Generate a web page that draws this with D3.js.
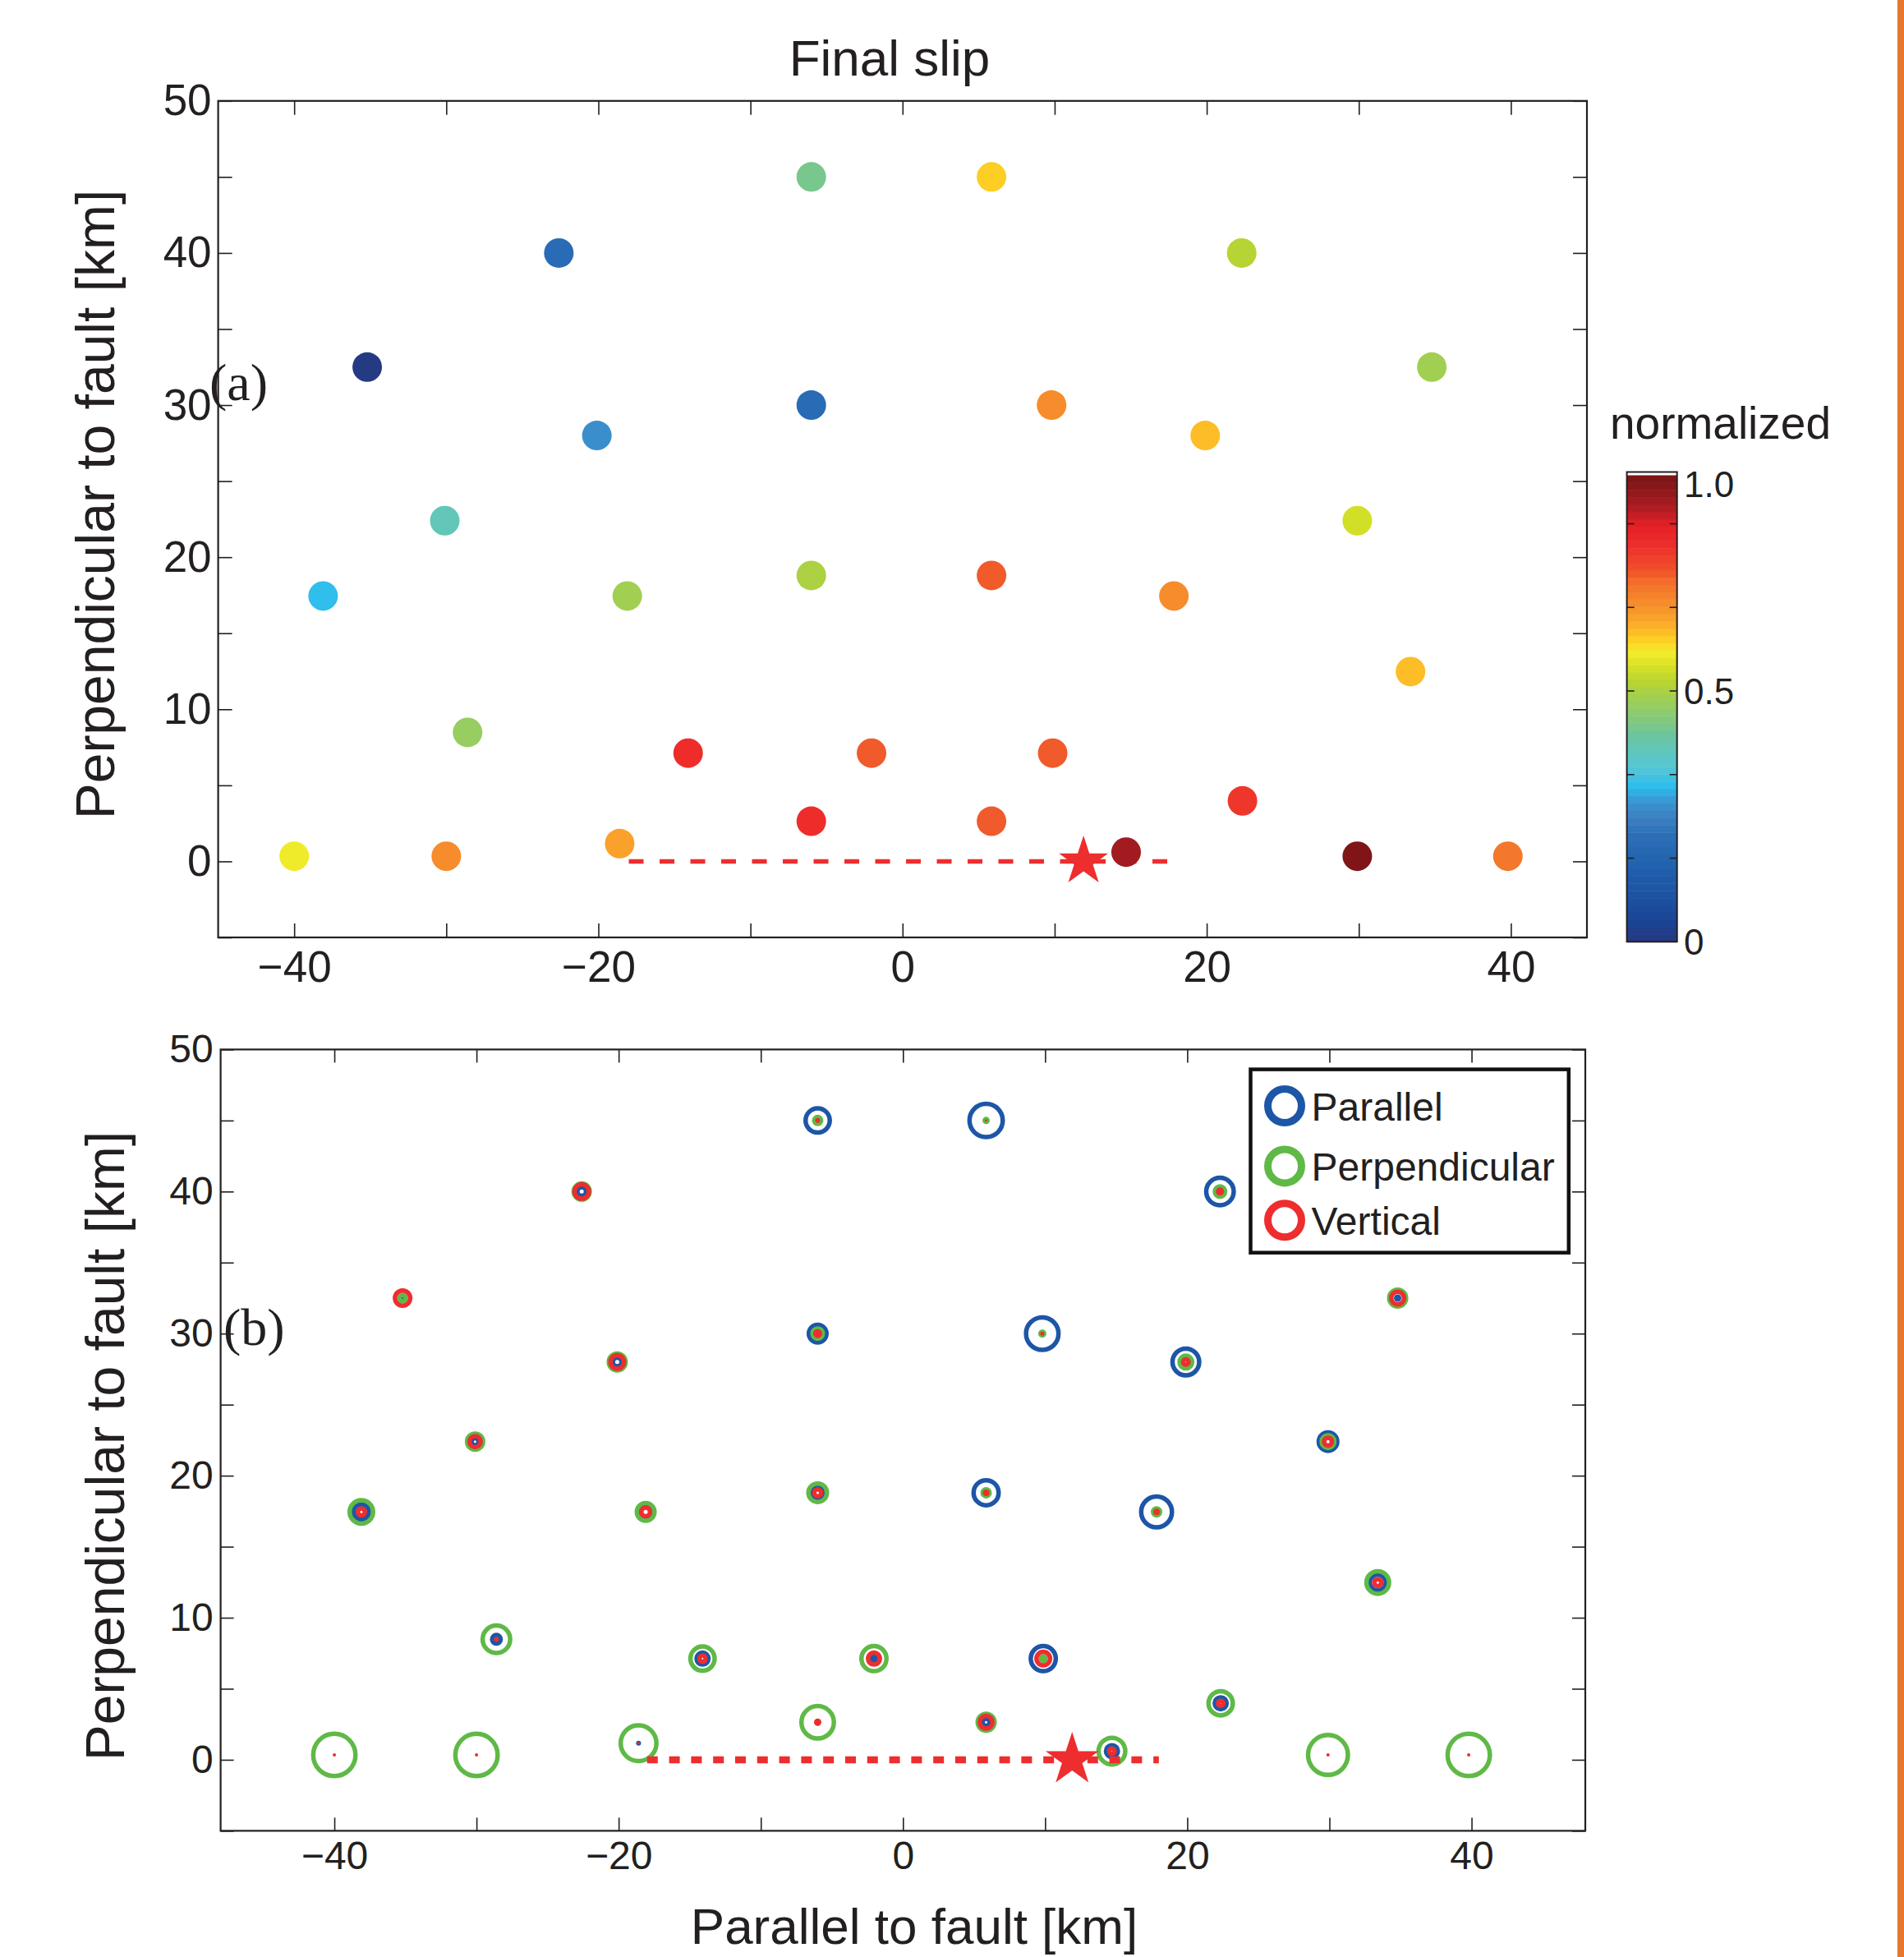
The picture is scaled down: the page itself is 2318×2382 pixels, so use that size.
<!DOCTYPE html>
<html>
<head>
<meta charset="utf-8">
<script src="https://cdn.jsdelivr.net/npm/d3@7"></script>
<style>
  body { margin: 0; background: #fff; }
  text { font-family: "Liberation Sans", Arial, sans-serif; fill: #231f20; }
</style>
</head>
<body>
<svg id="chart" width="2318" height="2382"></svg>
<script>
// station coordinates [km]
var stationX = [-6, 5.85, -22.6, 22.3, -35.2, 34.8, -6, 9.8, -20.1, 19.9, -30.1, 29.9, -38.1, -18.1, -6, 5.85,
    17.84, 33.4, -28.6, -14.1, -2.04, 9.87, -6, 5.85, 22.35, -40, -30, -18.6, 14.7, 29.9, 39.8];
var stationY = [45, 45, 40, 40, 32.5, 32.5, 30, 30, 28, 28, 22.4, 22.4, 17.45, 17.45, 18.8, 18.8,
    17.45, 12.48, 8.48, 7.12, 7.12, 7.12, 2.64, 2.64, 3.98, 0.34, 0.34, 1.17, 0.61, 0.34, 0.34];
// normalized final slip at each station
var slip = [0.43, 0.60, 0.19, 0.51, 0.01, 0.48, 0.19, 0.68, 0.27, 0.62, 0.39, 0.55, 0.31, 0.48, 0.50, 0.73,
    0.68, 0.62, 0.465, 0.79, 0.73, 0.73, 0.79, 0.74, 0.78, 0.57, 0.68, 0.65, 0.88, 0.92, 0.70];
// displacement amplitude per component
var dispParallel = [3.5, 4.6, 1.6, 3.9, 0.6, 0.9, 2.7, 4.5, 1.6, 3.8, 1.4, 2.8, 2.4, 2.0, 2.2, 3.6,
    4.3, 2.5, 1.6, 2.0, 1.0, 3.6, 0.3, 1.4, 2.0, 0.2, 0.2, 0.6, 2.0, 0.2, 0.2];
var dispPerpendicular = [1.4, 0.9, 2.5, 1.8, 1.3, 2.6, 1.8, 1.0, 2.6, 2.1, 2.5, 2.1, 3.4, 2.7, 2.8, 1.4,
    1.4, 3.3, 3.9, 3.5, 3.6, 1.1, 4.5, 2.6, 3.5, 5.7, 5.7, 4.9, 3.8, 5.4, 5.7];
var dispVertical = [0.6, 0.3, 2.3, 1.0, 2.4, 2.1, 1.1, 0.5, 2.2, 1.2, 1.9, 1.5, 1.4, 1.6, 1.4, 0.8,
    0.8, 1.4, 0.6, 1.3, 2.0, 2.2, 0.9, 2.1, 1.2, 0.4, 0.4, 0.3, 1.2, 0.4, 0.4];

var faultX = [-18, 18];
var hypocenter = [11.9, 0];

var xTicks = [-40, -30, -20, -10, 0, 10, 20, 30, 40];
var xTickLabels = [-40, -20, 0, 20, 40];
var yTicks = [-5, 0, 5, 10, 15, 20, 25, 30, 35, 40, 45, 50];
var yTickLabels = [0, 10, 20, 30, 40, 50];

var cbarMax = 0.93;
var cbarTicks = [1 / 6, 2 / 6, 3 / 6, 4 / 6, 5 / 6];
var cbarLabelValues = [0, 0.5, 0.912];
var cbarLabelTexts = ['0', '0.5', '1.0'];

var components = ['Parallel', 'Perpendicular', 'Vertical'];
var componentColors = ['#1d56a7', '#5fb946', '#ee2d2f'];

// colormap stops (fraction of colorbar, colour)
var cmapPos = [0, 0.044, 0.098, 0.165, 0.231, 0.265, 0.30, 0.332, 0.372, 0.406, 0.446, 0.48, 0.52, 0.553,
    0.586, 0.62, 0.647, 0.666, 0.693, 0.733, 0.77, 0.80, 0.85, 0.895, 0.927, 0.965, 1];
var cmapColors = ['#26387f', '#1a4494', '#1d52a2', '#2162ae', '#2c6fb6', '#3c80c1', '#3b94d1', '#2cbdee',
    '#55c6d6', '#5fc6bf', '#6dc59a', '#85c97a', '#9fcf56', '#b5d334', '#d2df27', '#f2ec2a', '#fdd023',
    '#fdbb27', '#f9a32a', '#f5882b', '#f4702b', '#f04e2b', '#ee2d2b', '#e41f26', '#b21e24', '#8f181c', '#7a1416'];

var ink = '#231f20';
var svg = d3.select('#chart');
svg.append('rect').attr('width', 2318).attr('height', 2382).attr('fill', '#fff');

var cmap = d3.scaleLinear().domain(cmapPos).range(cmapColors).clamp(true);
function slipColor(v) {
    // 64 discrete levels like the colorbar
    var t = Math.min(63, Math.floor(v / cbarMax * 64));
    return cmap((t + 0.5) / 64);
}

var stations = stationX.map(function (x, i) {
    return { x: x, y: stationY[i], slip: slip[i], amp: [dispParallel[i], dispPerpendicular[i], dispVertical[i]] };
});

function drawAxes(g, x, y, o) {
    var w = x.range()[1] - x.range()[0];
    var h = y.range()[0] - y.range()[1];
    var fmt = d3.format('');
    var styleAxis = function (sel) {
        sel.select('.domain').remove();
        sel.selectAll('line').attr('stroke', ink).attr('stroke-width', 1.6);
        sel.attr('font-family', '"Liberation Sans", Arial, sans-serif').attr('font-size', o.font);
        sel.selectAll('text').attr('fill', ink);
    };
    g.append('g').attr('transform', 'translate(0,' + h + ')')
        .call(d3.axisBottom(x).tickValues(xTicks).tickSizeInner(-o.tick).tickSizeOuter(0).tickPadding(o.padX)
            .tickFormat(function (d) { return xTickLabels.indexOf(d) >= 0 ? fmt(d) : ''; }))
        .call(styleAxis);
    g.append('g')
        .call(d3.axisTop(x).tickValues(xTicks).tickSizeInner(-o.tick).tickSizeOuter(0).tickFormat(''))
        .call(styleAxis);
    g.append('g')
        .call(d3.axisLeft(y).tickValues(yTicks).tickSizeInner(-o.tick).tickSizeOuter(0).tickPadding(o.padY)
            .tickFormat(function (d) { return yTickLabels.indexOf(d) >= 0 ? fmt(d) : ''; }))
        .call(styleAxis);
    g.append('g').attr('transform', 'translate(' + w + ',0)')
        .call(d3.axisRight(y).tickValues(yTicks).tickSizeInner(-o.tick).tickSizeOuter(0).tickFormat(''))
        .call(styleAxis);
    g.append('rect').attr('width', w).attr('height', h)
        .attr('fill', 'none').attr('stroke', ink).attr('stroke-width', 2.2);
}

// ---------- panel (a) ----------
var ga = svg.append('g').attr('transform', 'translate(265.6,122.8)');
var xa = d3.scaleLinear().domain([-45, 45]).range([0, 1666.4]);
var ya = d3.scaleLinear().domain([-5, 50]).range([1018.2, 0]);

ga.append('line')
    .attr('x1', xa(faultX[0])).attr('x2', xa(faultX[1]))
    .attr('y1', ya(0)).attr('y2', ya(0))
    .attr('stroke', '#ee2d2f').attr('stroke-width', 5.5).attr('stroke-dasharray', '18 19.5');

ga.selectAll('circle.slip').data(stations).enter().append('circle')
    .attr('class', 'slip')
    .attr('cx', function (d) { return xa(d.x); })
    .attr('cy', function (d) { return ya(d.y); })
    .attr('r', 18)
    .attr('fill', function (d) { return slipColor(d.slip); });

ga.append('path')
    .attr('d', d3.symbol().type(d3.symbolStar).size(31.5 * 31.5 / 0.8908130915292852)())
    .attr('transform', 'translate(' + xa(hypocenter[0]) + ',' + ya(hypocenter[1]) + ')')
    .attr('fill', '#ee2d2f');

drawAxes(ga, xa, ya, { font: 53, tick: 17, padX: 16, padY: 8 });

svg.append('text').attr('x', 1083).attr('y', 91.5).attr('text-anchor', 'middle')
    .attr('font-size', 62).text('Final slip');
svg.append('text').attr('transform', 'translate(139,614) rotate(-90)').attr('text-anchor', 'middle')
    .attr('font-size', 66).text('Perpendicular to fault [km]');
svg.append('text').attr('x', 255).attr('y', 487).attr('font-size', 64)
    .style('font-family', '"Liberation Serif", "DejaVu Serif", serif').text('(a)');

// colorbar
var cbX = 1980.6, cbW = 61.1;
var cy = d3.scaleLinear().domain([0, cbarMax]).range([1146.3, 578.5]);
var levels = d3.range(64);
svg.append('g').selectAll('rect').data(levels).enter().append('rect')
    .attr('x', cbX).attr('width', cbW)
    .attr('y', function (i) { return cy(cbarMax * (i + 1) / 64); })
    .attr('height', function (i) { return cy(cbarMax * i / 64) - cy(cbarMax * (i + 1) / 64) + 0.5; })
    .attr('fill', function (i) { return cmap((i + 0.5) / 64); });
svg.append('rect').attr('x', cbX).attr('y', 574.5).attr('width', cbW).attr('height', 1146.3 - 574.5)
    .attr('fill', 'none').attr('stroke', ink).attr('stroke-width', 2);
var cbt = svg.append('g').selectAll('g').data(cbarTicks).enter().append('g');
cbt.append('line').attr('x1', cbX).attr('x2', cbX + 9)
    .attr('y1', function (d) { return cy(d); }).attr('y2', function (d) { return cy(d); })
    .attr('stroke', ink).attr('stroke-width', 1.6);
cbt.append('line').attr('x1', cbX + cbW - 9).attr('x2', cbX + cbW)
    .attr('y1', function (d) { return cy(d); }).attr('y2', function (d) { return cy(d); })
    .attr('stroke', ink).attr('stroke-width', 1.6);
svg.append('g').selectAll('text').data(cbarLabelValues).enter().append('text')
    .attr('x', 2050).attr('y', function (d) { return cy(d); }).attr('dy', '0.36em')
    .attr('font-size', 44).text(function (d, i) { return cbarLabelTexts[i]; });
svg.append('text').attr('x', 1960).attr('y', 534).attr('font-size', 55).text('normalized');

// ---------- panel (b) ----------
var gb = svg.append('g').attr('transform', 'translate(268.6,1277.4)');
var xb = d3.scaleLinear().domain([-48, 48]).range([0, 1661.4]);
var yb = d3.scaleLinear().domain([-5, 50]).range([951, 0]);
var diam = d3.scaleLinear().domain([0, 6]).range([0, 60]);
var ringW = 5.5;

components.forEach(function (c, k) {
    gb.selectAll('circle.c' + k).data(stations).enter().append('circle')
        .attr('class', 'c' + k)
        .attr('cx', function (d) { return xb(d.x); })
        .attr('cy', function (d) { return yb(d.y); })
        .attr('r', function (d) {
            var D = diam(d.amp[k]);
            var sw = Math.min(ringW, D / 2);
            return Math.max(0.3, D / 2 - sw / 2);
        })
        .attr('fill', 'none')
        .attr('stroke', componentColors[k])
        .attr('stroke-width', function (d) { return Math.min(ringW, diam(d.amp[k]) / 2); });
});

gb.append('line')
    .attr('x1', xb(faultX[0])).attr('x2', xb(faultX[1]))
    .attr('y1', yb(0)).attr('y2', yb(0))
    .attr('stroke', '#ee2d2f').attr('stroke-width', 8.5).attr('stroke-dasharray', '13 13.8');

gb.append('path')
    .attr('d', d3.symbol().type(d3.symbolStar).size(34 * 34 / 0.8908130915292852)())
    .attr('transform', 'translate(' + xb(hypocenter[0]) + ',' + yb(hypocenter[1]) + ')')
    .attr('fill', '#ee2d2f');

drawAxes(gb, xb, yb, { font: 48, tick: 16, padX: 13, padY: 9 });

svg.append('text').attr('transform', 'translate(151,1760) rotate(-90)').attr('text-anchor', 'middle')
    .attr('font-size', 66).text('Perpendicular to fault [km]');
svg.append('text').attr('x', 1113).attr('y', 2366).attr('text-anchor', 'middle')
    .attr('font-size', 62).text('Parallel to fault [km]');
svg.append('text').attr('x', 272).attr('y', 1637).attr('font-size', 64)
    .style('font-family', '"Liberation Serif", "DejaVu Serif", serif').text('(b)');

// legend
var lg = svg.append('g').attr('transform', 'translate(1522.5,1301.6)');
lg.append('rect').attr('width', 387.3).attr('height', 223.1)
    .attr('fill', '#fff').attr('stroke', '#111').attr('stroke-width', 4.5);
var li = lg.selectAll('g.item').data(components).enter().append('g')
    .attr('class', 'item')
    .attr('transform', function (d, i) { return 'translate(0,' + [44.4, 117.8, 183.7][i] + ')'; });
li.append('circle').attr('cx', 41.5).attr('r', 20.5).attr('fill', 'none')
    .attr('stroke', function (d, i) { return componentColors[i]; }).attr('stroke-width', 9);
li.append('text').attr('x', 74).attr('dy', '0.37em').attr('font-size', 48).text(function (d) { return d; });

// orange edge strip
svg.append('rect').attr('x', 2310).attr('y', 0).attr('width', 8).attr('height', 2382).attr('fill', '#e7772a');
</script>
</body>
</html>
